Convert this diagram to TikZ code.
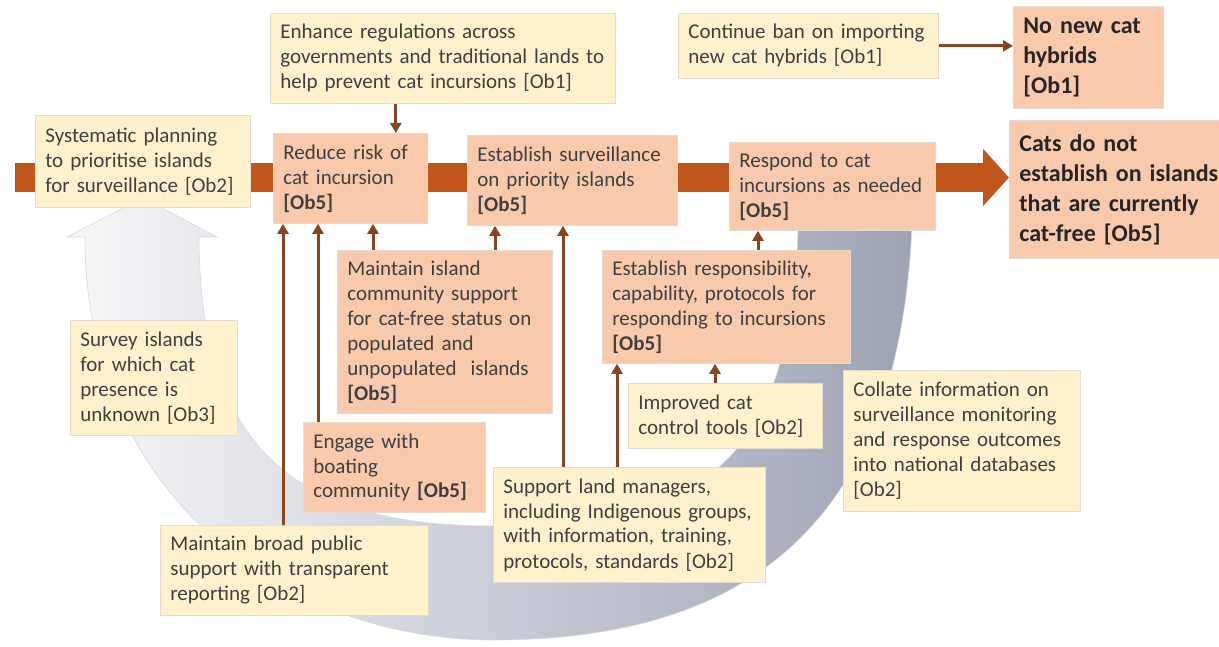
\documentclass[tikz,border=0pt]{standalone}
\usepackage{fontspec}
\setmainfont{Carlito}
\usetikzlibrary{arrows.meta,positioning,backgrounds}

\definecolor{paleyellow}{RGB}{253,242,204}
\definecolor{salmon}{RGB}{248,201,170}
\definecolor{boxedge}{RGB}{226,220,208}
\definecolor{flowbrown}{RGB}{192,86,26}
\definecolor{linkbrown}{RGB}{139,69,30}
\definecolor{bandlight}{RGB}{247,247,249}
\definecolor{banddark}{RGB}{158,163,180}
\definecolor{inktext}{RGB}{64,64,64}

\begin{document}
\begin{tikzpicture}[
    x=1pt, y=-1pt,
    box/.style={rectangle, draw=boxedge, line width=0.8pt, anchor=north west, align=left,
        inner xsep=10pt, inner ysep=4pt, text=inktext, font=\fontsize{21}{25}\selectfont},
    action/.style={box, fill=paleyellow},
    result/.style={box, fill=salmon},
    goal/.style={box, fill=salmon, text=black!85, font=\fontsize{24}{30}\selectfont\bfseries},
    link/.style={-{Triangle[length=10pt,width=11pt]}, draw=linkbrown, line width=3pt},
    flow/.style={-{Triangle[length=26pt,width=56pt]}, draw=flowbrown, line width=29pt}
]
\useasboundingbox (0,0) rectangle (1219,647);

% Top row
\node[action, text width=325pt, minimum height=90pt] (enhance) at (270,13) {Enhance regulations across\\governments and traditional lands to\\help prevent cat incursions [Ob1]};
\node[action, text width=240pt, minimum height=65pt] (banimport) at (678,13) {Continue ban on importing\\new cat hybrids [Ob1]};
\node[goal, text width=130pt, minimum height=102pt] (nonew) at (1013,6) {No new cat\\hybrids\\{[Ob1]}};

% Main pathway
\node[action, text width=195pt, minimum height=92pt] (sysplan) at (35,115) {Systematic planning\\to prioritise islands\\for surveillance [Ob2]};
\node[result, text width=134pt, minimum height=90pt] (reduce) at (273,133) {Reduce risk of\\cat incursion\\\textbf{[Ob5]}};
\node[result, text width=190pt, minimum height=90pt] (estsurv) at (467,135) {Establish surveillance\\on priority islands\\\textbf{[Ob5]}};
\node[result, text width=186pt, minimum height=88pt] (respond) at (729,142) {Respond to cat\\incursions as needed\\\textbf{[Ob5]}};
\node[goal, text width=200pt, minimum height=138pt] (catsdo) at (1009,120) {Cats do not\\establish on islands\\that are currently\\cat-free [Ob5]};

% Supporting actions
\node[result, text width=195pt, minimum height=163pt] (maintainisl) at (337,250) {Maintain island\\community support\\for cat-free status on\\populated and\\unpopulated\ \ islands\\\textbf{[Ob5]}};
\node[result, text width=228pt, minimum height=113pt] (estresp) at (602,250) {Establish responsibility,\\capability, protocols for\\responding to incursions\\\textbf{[Ob5]}};
\node[action, text width=147pt, minimum height=115pt] (survey) at (70,320) {Survey islands\\for which cat\\presence is\\unknown [Ob3]};
\node[action, text width=174pt, minimum height=65pt] (improved) at (628,383) {Improved cat\\control tools [Ob2]};
\node[action, text width=217pt, minimum height=141pt] (collate) at (843,370) {Collate information on\\surveillance monitoring\\and response outcomes\\into national databases\\{[Ob2]}};
\node[result, text width=162pt, minimum height=90pt] (engage) at (303,422) {Engage with\\boating\\community \textbf{[Ob5]}};
\node[action, text width=252pt, minimum height=115pt] (support) at (493,467) {Support land managers,\\including Indigenous groups,\\with information, training,\\protocols, standards [Ob2]};
\node[action, text width=248pt, minimum height=90pt] (maintainbroad) at (160,525) {Maintain broad public\\support with transparent\\reporting [Ob2]};

% Links
\draw[link] ([xshift=-32pt]reduce.north east |- enhance.south) -- ([xshift=-32pt]reduce.north east);
\draw[link] (banimport.east) -- (nonew.west |- banimport.east);
\draw[link] ([xshift=10pt]reduce.south west |- maintainbroad.north) -- ([xshift=10pt]reduce.south west);
\draw[link] ([xshift=15pt]engage.north west) -- ([xshift=15pt]engage.north west |- reduce.south);
\draw[link] ([xshift=36pt]maintainisl.north west) -- ([xshift=36pt]maintainisl.north west |- reduce.south);
\draw[link] ([xshift=28pt]estsurv.south west |- maintainisl.north) -- ([xshift=28pt]estsurv.south west);
\draw[link] ([xshift=70pt]support.north west) -- ([xshift=70pt]support.north west |- estsurv.south);
\draw[link] ([xshift=15pt]estresp.south west |- support.north) -- ([xshift=15pt]estresp.south west);
\draw[link] ([xshift=87pt]improved.north west) -- ([xshift=87pt]improved.north west |- estresp.south);
\draw[link] ([xshift=29pt]respond.south west |- estresp.north) -- ([xshift=29pt]respond.south west);

% Feedback loop and main flow behind the boxes
\begin{scope}[on background layer]
\path[draw=black!15, line width=0.6pt, left color=bandlight, right color=banddark]
    (199,237) -- (217,237) -- (143,198) -- (67,237) -- (85,237)
    .. controls (85,500) and (290,640) .. (493,640)
    .. controls (800,640) and (913,470) .. (913,180)
    -- (799,180)
    .. controls (799,430) and (740,526) .. (493,526)
    .. controls (310,526) and (199,460) .. (199,237) -- cycle;
\coordinate (flowstart) at (15,177.5);
\draw[flow] (flowstart) -- (flowstart -| catsdo.west);
\end{scope}

\end{tikzpicture}
\end{document}
